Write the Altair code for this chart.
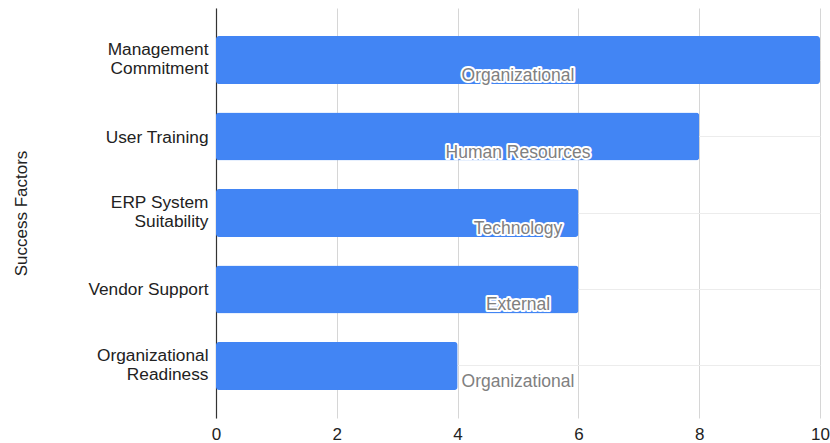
import altair as alt
import pandas as pd

factors = ["Management\nCommitment", "User Training", "ERP System\nSuitability",
           "Vendor Support", "Organizational\nReadiness"]
scores = [10, 8, 6, 6, 4]
groups = ["Organizational", "Human Resources", "Technology", "External", "Organizational"]
x_ticks = [0, 2, 4, 6, 8, 10]

df = pd.DataFrame({"factor": factors, "score": scores, "group": groups})
df["mid"] = 5

FONT = "Arial"

y_enc = alt.Y(
    "factor:N",
    sort=factors,
    title="Success Factors",
    scale=alt.Scale(paddingInner=0.373, paddingOuter=0.367),
    axis=alt.Axis(
        labelExpr="split(datum.label, '\\n')",
        labelFont=FONT, labelFontSize=17.3, labelColor="#222222",
        labelOffset=alt.condition("indexof(datum.value, '\\n') >= 0", alt.value(-10), alt.value(1)),
        titleFont=FONT, titleFontSize=17, titleColor="#222222", titleFontWeight="normal",
        titlePadding=57,
        domain=True, domainColor="#333333", domainWidth=1.2,
        ticks=False, labelPadding=8,
        grid=True, gridColor="#ececec", bandPosition=0.5,
        labelLineHeight=19,
    ),
)

x_enc = alt.X(
    "score:Q",
    title=None,
    scale=alt.Scale(domain=[0, 10], nice=False),
    axis=alt.Axis(
        values=x_ticks, format="d", labelFont=FONT, labelFontSize=17, labelColor="#222222",
        domain=False, ticks=False, labelPadding=8, labelFlush=False,
        grid=True, gridColor="#d6d6d6",
    ),
)

bars = alt.Chart(df).mark_bar(color="#4285F4", cornerRadius=3).encode(
    y=y_enc, x=x_enc
)

halo = alt.Chart(df).mark_text(
    font=FONT, fontSize=17.5, stroke="white", strokeWidth=4, fill="white",
    baseline="middle", align="center", yOffset=16, strokeJoin="round",
).encode(
    y=alt.Y("factor:N", sort=factors),
    x=alt.X("mid:Q"),
    text="group:N",
)

labels = alt.Chart(df).mark_text(
    font=FONT, fontSize=17.5, fill="#808080",
    baseline="middle", align="center", yOffset=16,
).encode(
    y=alt.Y("factor:N", sort=factors),
    x=alt.X("mid:Q"),
    text="group:N",
)

chart = alt.layer(bars, halo, labels).properties(
    width=604, height=410,
    autosize=alt.AutoSizeParams(type="none"),
    padding={"left": 216, "top": 8, "right": 10, "bottom": 25},
).configure_view(stroke=None)

chart.save("out.html", embed_options={"renderer": "svg", "actions": False})
